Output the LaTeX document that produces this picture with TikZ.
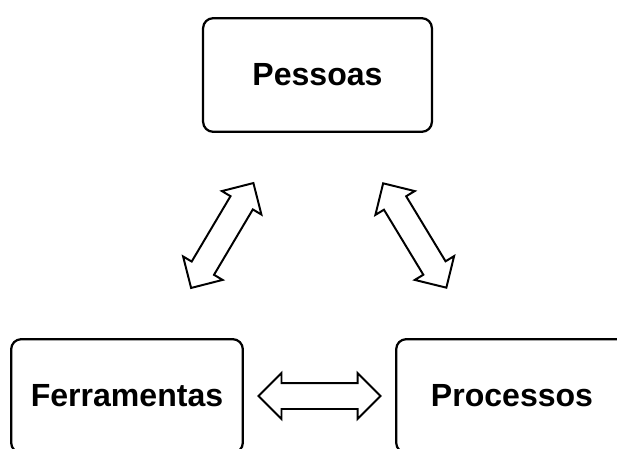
\documentclass[tikz,border=0pt]{standalone}
\usepackage{fontspec}
\setmainfont{Liberation Sans}
\usetikzlibrary{shapes.arrows,calc}

\begin{document}
\begin{tikzpicture}[box/.style={shape=rectangle,rounded corners=0.25cm,draw=black,align=center,line width=1.6pt,minimum width=5.72cm,minimum height=2.84cm,font=\fontsize{22.8}{27}\selectfont\bfseries},
twoway/.style={shape=double arrow,draw=black,line width=1.4pt,double arrow head extend=0.25cm,double arrow tip angle=90,inner sep=0pt,inner ysep=0.3cm,minimum height=3.05cm}]
\useasboundingbox (0,0) rectangle (15.425,11.2);
\clip (0,0) rectangle (15.425,11.2);
\node[box] (0) at (7.9375,9.325) {Pessoas};
\node[box,minimum width=5.79cm] (1) at (3.175,1.3) {Ferramentas};
\node[box,minimum width=5.79cm] (2) at (12.8,1.3) {Processos};

\node[twoway,rotate=59.3] (3) at ($(0)!0.5!(1)$) {};
\node[twoway,rotate=121.2] (4) at ($(0)!0.5!(2)$) {};
\node[twoway] (5) at ($(1)!0.5!(2)$) {};
\end{tikzpicture}
\end{document}
